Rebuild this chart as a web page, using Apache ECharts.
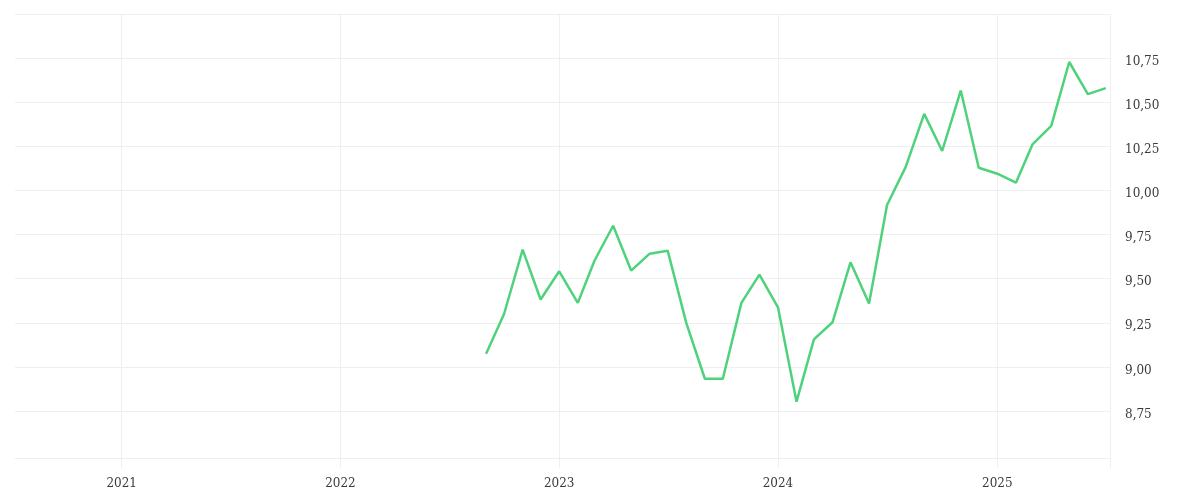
<!DOCTYPE html>
<html>
<head>
<meta charset="utf-8">
<script src="https://cdn.jsdelivr.net/npm/echarts@6/dist/echarts.min.js"></script>
<style>
html,body{margin:0;padding:0;background:#fff;}
#chart{width:1200px;height:500px;}
</style>
</head>
<body>
<div id="chart"></div>
<script>
const months = [
  '2022-09-01','2022-10-01','2022-11-01','2022-12-01',
  '2023-01-01','2023-02-01','2023-03-01','2023-04-01','2023-05-01','2023-06-01',
  '2023-07-01','2023-08-01','2023-09-01','2023-10-01','2023-11-01','2023-12-01',
  '2024-01-01','2024-02-01','2024-03-01','2024-04-01','2024-05-01','2024-06-01',
  '2024-07-01','2024-08-01','2024-09-01','2024-10-01','2024-11-01','2024-12-01',
  '2025-01-01','2025-02-01','2025-03-01','2025-04-01','2025-05-01','2025-06-01',
  '2025-07-01'
];
const values = [
  9.075, 9.30, 9.665, 9.382,
  9.542, 9.363, 9.603, 9.80, 9.546, 9.642,
  9.659, 9.25, 8.933, 8.933, 9.363, 9.523,
  9.338, 8.803, 9.156, 9.253, 9.593, 9.36,
  9.918, 10.132, 10.434, 10.224, 10.566, 10.129,
  10.095, 10.044, 10.263, 10.366, 10.728, 10.546,
  10.58
];
const xRange = ['2020-07-07', '2025-07-08'];
const yRange = [8.484, 11.0];
const yStep = 0.25;

const gridColor = '#efefef';
const textColor = '#3a3a3a';
const font = 'DejaVu Serif';

const seriesData = months.map((m, i) => [m, values[i]]);

// split line colours: hide the 8.50 line (index 1) which the reference does not draw
const splitColors = [gridColor, 'rgba(0,0,0,0)'];
for (let i = 0; i < 12; i++) splitColors.push(gridColor);

const chart = echarts.init(document.getElementById('chart'), null, {renderer: 'canvas'});
chart.setOption({
  animation: false,
  backgroundColor: '#fff',
  grid: {left: 15, right: 90, top: 14, bottom: 42, containLabel: false, outerBoundsMode: 'none'},
  graphic: [{
    type: 'line',
    shape: {x1: 1110.5, y1: 458, x2: 1110.5, y2: 468},
    style: {stroke: gridColor, lineWidth: 1},
    silent: true
  }],
  xAxis: {
    type: 'time',
    min: xRange[0],
    max: xRange[1],
    minInterval: 365 * 24 * 3600 * 1000,
    axisLine: {show: true, lineStyle: {color: gridColor, width: 1}},
    axisTick: {show: true, length: 10, lineStyle: {color: gridColor, width: 1}},
    splitLine: {show: true, showMinLine: false, showMaxLine: false, lineStyle: {color: gridColor, width: 1}},
    axisLabel: {
      color: textColor, fontFamily: font, fontSize: 12, margin: 20,
      formatter: '{yyyy}', showMinLabel: false, showMaxLabel: false
    }
  },
  yAxis: {
    type: 'value',
    position: 'right',
    min: yRange[0],
    max: yRange[1],
    minInterval: yStep,
    maxInterval: yStep,
    axisLine: {show: true, lineStyle: {color: gridColor, width: 1}},
    axisTick: {show: false},
    splitLine: {show: true, lineStyle: {color: splitColors, width: 1}},
    axisLabel: {
      color: textColor, fontFamily: font, fontSize: 12, margin: 15,
      verticalAlign: 'top', lineHeight: 7,
      showMinLabel: false, showMaxLabel: false,
      formatter: v => (v < 8.6 || v > 10.9) ? '' : v.toFixed(2).replace('.', ',')
    }
  },
  series: [{
    type: 'line',
    data: seriesData,
    showSymbol: false,
    symbol: 'none',
    lineStyle: {color: '#4ed27b', width: 2.5},
    itemStyle: {color: '#4ed27b'}
  }]
});
</script>
</body>
</html>
